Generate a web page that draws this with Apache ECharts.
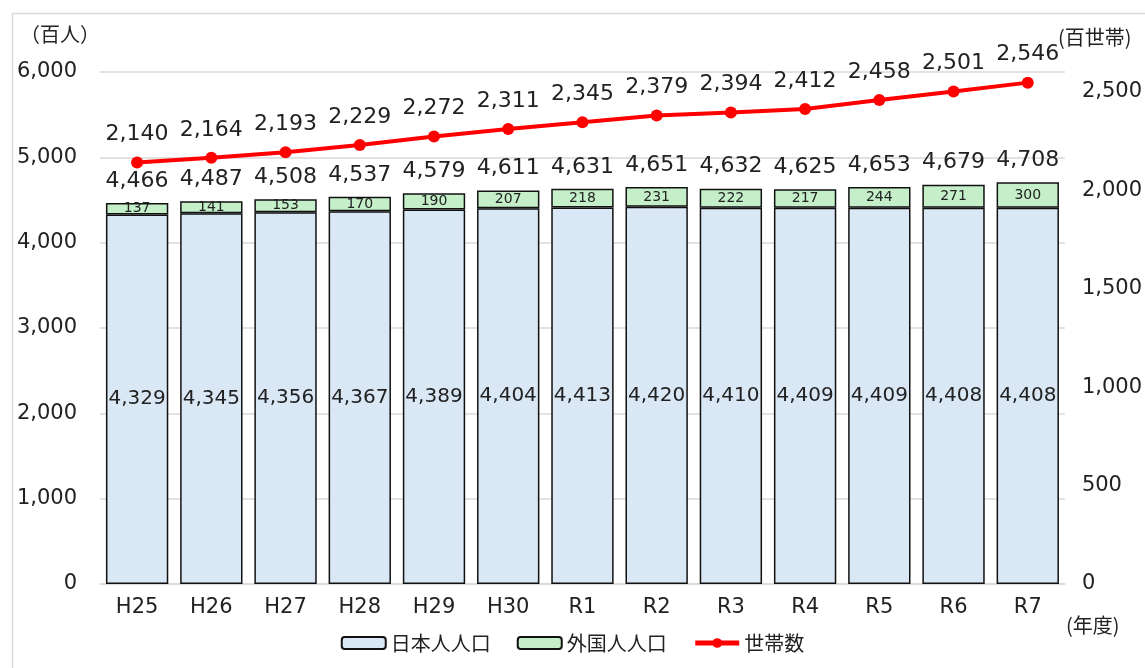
<!DOCTYPE html>
<html>
<head>
<meta charset="utf-8">
<script src="https://cdn.jsdelivr.net/npm/echarts@6/dist/echarts.min.js"></script>
<style>
html, body { margin: 0; padding: 0; background: #fff; }
#main { width: 1145px; height: 668px; }
</style>
</head>
<body>
<div id="main"></div>
<script>
var years = ['H25', 'H26', 'H27', 'H28', 'H29', 'H30', 'R1', 'R2', 'R3', 'R4', 'R5', 'R6', 'R7'];
var japanese = [4329, 4345, 4356, 4367, 4389, 4404, 4413, 4420, 4410, 4409, 4409, 4408, 4408];
var foreign = [137, 141, 153, 170, 190, 207, 218, 231, 222, 217, 244, 271, 300];
var households = [2140, 2164, 2193, 2229, 2272, 2311, 2345, 2379, 2394, 2412, 2458, 2501, 2546];
var totals = [4466, 4487, 4508, 4537, 4579, 4611, 4631, 4651, 4632, 4625, 4653, 4679, 4708];

var JP = '"Noto Sans CJK JP", "Noto Sans", sans-serif';
var NUM = '"DejaVu Sans", "Noto Sans CJK JP", sans-serif';
var fmt = function (v) { return Number(v).toLocaleString('en-US'); };

var chart = echarts.init(document.getElementById('main'));

var option = {
    textStyle: { fontFamily: NUM },
    animation: false,
    graphic: [
        // outer frame of the chart
        { type: 'rect', left: 10, top: 11, shape: { width: 1145, height: 680 },
          style: { fill: 'none', stroke: '#d9d9d9', lineWidth: 1.5 } },
        { type: 'text', left: 20, top: 24,
          style: { text: '（百人）', font: '20px ' + JP, fill: '#222' } },
        { type: 'text', left: 1058, top: 27,
          style: { text: '(百世帯)', font: '20px ' + JP, fill: '#222' } },
        { type: 'text', left: 1066, top: 615,
          style: { text: '(年度)', font: '20px ' + JP, fill: '#222' } }
    ],
    legend: {
        bottom: 10,
        left: 'center',
        data: [
            { name: '日本人人口' },
            { name: '外国人人口' },
            { name: '世帯数', lineStyle: { width: 5 } }
        ],
        itemWidth: 44,
        itemHeight: 12,
        itemGap: 26,
        textStyle: { fontSize: 20, color: '#222', fontFamily: JP }
    },
    grid: { left: 100, right: 79, top: 72, bottom: 84 },
    xAxis: {
        type: 'category',
        data: years,
        axisTick: { show: false },
        axisLine: { lineStyle: { color: '#d9d9d9', width: 1.5 } },
        axisLabel: { color: '#222', fontSize: 21, margin: 13 }
    },
    yAxis: [
        {
            type: 'value', min: 0, max: 6000, interval: 1000,
            axisLabel: { color: '#222', fontSize: 21, margin: 23, formatter: fmt },
            splitLine: { lineStyle: { color: '#d9d9d9', width: 1.5 } },
            axisLine: { show: false }, axisTick: { show: false }
        },
        {
            type: 'value', min: 0, max: 2600, interval: 500,
            axisLabel: { color: '#222', fontSize: 21, margin: 17, formatter: fmt, showMaxLabel: false },
            splitLine: { show: false },
            axisLine: { show: false }, axisTick: { show: false }
        }
    ],
    series: [
        {
            name: '日本人人口', type: 'bar', stack: 'pop',
            data: japanese,
            barCategoryGap: '16%',
            itemStyle: { color: '#dae7f5', borderColor: '#111', borderWidth: 1.5 },
            label: { show: true, position: 'inside', fontSize: 20, color: '#222', formatter: function (p) { return fmt(p.value); } }
        },
        {
            name: '外国人人口', type: 'bar', stack: 'pop',
            data: foreign,
            itemStyle: { color: '#c4efc9', borderColor: '#111', borderWidth: 1.5 },
            label: { show: true, position: 'inside', fontSize: 14, color: '#222', formatter: function (p) { return fmt(p.value); } }
        },
        {
            name: '合計', type: 'bar', stack: 'pop',
            data: years.map(function () { return 0; }),
            itemStyle: { color: 'transparent', borderWidth: 0 },
            label: { show: true, position: 'top', distance: 11, fontSize: 22, color: '#222',
                     formatter: function (p) { return fmt(totals[p.dataIndex]); } },
            tooltip: { show: false }
        },
        {
            name: '世帯数', type: 'line', yAxisIndex: 1,
            data: households,
            symbol: 'circle', symbolSize: 12,
            lineStyle: { color: '#ff0000', width: 4 },
            itemStyle: { color: '#ff0000' },
            label: { show: true, position: 'top', distance: 11, fontSize: 22, color: '#222', formatter: function (p) { return fmt(p.value); } }
        }
    ]
};

chart.setOption(option);
</script>
</body>
</html>
